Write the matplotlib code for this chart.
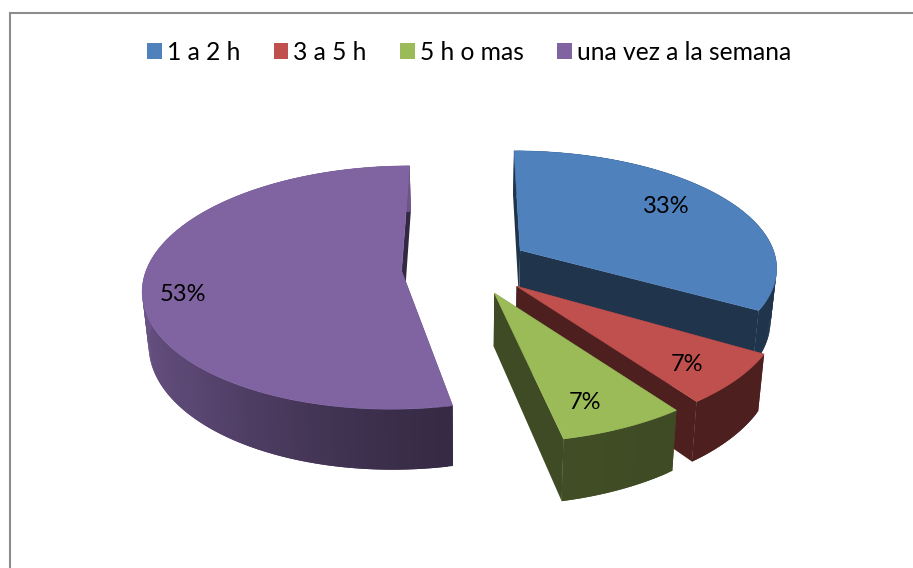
import numpy as np
import matplotlib
matplotlib.use("Agg")
import matplotlib.pyplot as plt
from matplotlib.patches import Polygon, Rectangle
from matplotlib.lines import Line2D

# --- data -----------------------------------------------------------------
categories = ["1 a 2 h", "3 a 5 h", "5 h o mas", "una vez a la semana"]
values = [5, 1, 1, 8]

# --- styles / layout ------------------------------------------------------
colors = ["#4F81BD", "#C0504D", "#9BBB59", "#8064A2"]
label_xy = [(666, 206.5), (687, 364.5), (585, 402.5), (183, 294.5)]
explode_x = [0.24, 0.25, 0.245, 0.26]
explode_y = [0.30, 0.22, 0.22, 0.22]
radius_x = [1.01, 1.0, 1.02, 0.995]
radius_y = [0.97, 1.0, 1.0, 0.98]
CX, CY, RX, RY = 468.0, 268.0, 256.0, 121.0   # pie centre and radii, in pixels
PERSP = 0.14      # perspective strength
DEPTH = 52.0      # thickness
BOTTOM_SCALE = 0.98
W, H = 913, 568

plt.rcParams["font.family"] = ["Lato", "DejaVu Sans"]
fig = plt.figure(figsize=(W / 100, H / 100), dpi=100)
ax = fig.add_axes([0, 0, 1, 1])
ax.set_xlim(0, W)
ax.set_ylim(H, 0)
ax.axis("off")


def project(X, Y, bottom=False):
    w = 1 + PERSP * Y
    x = CX + RX * X / w
    y = CY - RY * Y / w
    if bottom:
        x = CX + (x - CX) * BOTTOM_SCALE
        y = y + DEPTH / w
    return x, y


def shade(color, f):
    rgb = np.array(matplotlib.colors.to_rgb(color)) * f
    return tuple(np.clip(rgb, 0, 1))


def wall_factor(angle):
    return np.interp(angle, [0, 150, 170, 190, 225, 270, 360],
                     [0.40, 0.40, 0.42, 0.50, 0.70, 0.85, 0.85])


# Border of the chart area (only left and top fall inside the picture)
ax.add_line(Line2D([9.5, 9.5, W + 2], [H + 2, 12.5, 12.5],
                   color="#8c8c8c", lw=1.5, solid_joinstyle="miter"))

total = float(sum(values))
edges = np.concatenate([[0], np.cumsum(values)]) / total * 360.0

for i, color in enumerate(colors):
    a0, a1 = edges[i], edges[i + 1]
    mid = np.radians((a0 + a1) / 2)
    ox, oy = explode_x[i] * np.sin(mid), explode_y[i] * np.cos(mid)
    ang = np.linspace(a0, a1, max(int(a1 - a0), 16))
    X = ox + radius_x[i] * np.sin(np.radians(ang))
    Y = oy + radius_y[i] * np.cos(np.radians(ang))

    # two flat cut faces
    for X_e, Y_e in ((X[0], Y[0]), (X[-1], Y[-1])):
        xs, ys = project(np.array([ox, X_e]), np.array([oy, Y_e]))
        xb, yb = project(np.array([ox, X_e]), np.array([oy, Y_e]), bottom=True)
        face = shade(color, 0.40)
        ax.add_patch(Polygon(np.c_[np.r_[xs, xb[::-1]], np.r_[ys, yb[::-1]]],
                             closed=True, fc=face, ec="none"))

    # curved outer wall, shaded along its length; each piece overlaps the next
    xt, yt = project(X, Y)
    xb, yb = project(X, Y, bottom=True)
    n = len(ang)
    for j in range(n - 1):
        k = min(j + 2, n - 1)
        face = shade(color, wall_factor((ang[j] + ang[j + 1]) / 2))
        pts = np.c_[np.r_[xt[j:k + 1], xb[j:k + 1][::-1]],
                    np.r_[yt[j:k + 1], yb[j:k + 1][::-1]]]
        ax.add_patch(Polygon(pts, closed=True, fc=face, ec="none"))

    # top surface
    ax_, ay_ = project(np.array([ox]), np.array([oy]))
    top = np.c_[np.r_[ax_, xt], np.r_[ay_, yt]]
    ax.add_patch(Polygon(top, closed=True, fc=color, ec=color, lw=0.4))

# Data labels
for v, (lx, ly) in zip(values, label_xy):
    ax.text(lx, ly, f"{v / total * 100:.0f}%", fontsize=17, color="black",
            ha="center", va="center")

# Legend
handles = [Rectangle((0, 0), 1, 1, fc=c, ec="none") for c in colors]
labels = list(categories)
leg = ax.legend(handles, labels, loc="center", bbox_to_anchor=(469, 52),
                bbox_transform=ax.transData, ncols=4, frameon=False,
                fontsize=17.7, handlelength=0.6, handleheight=0.6,
                handletextpad=0.2, columnspacing=1.36)

fig.savefig("out.png", dpi=100)
